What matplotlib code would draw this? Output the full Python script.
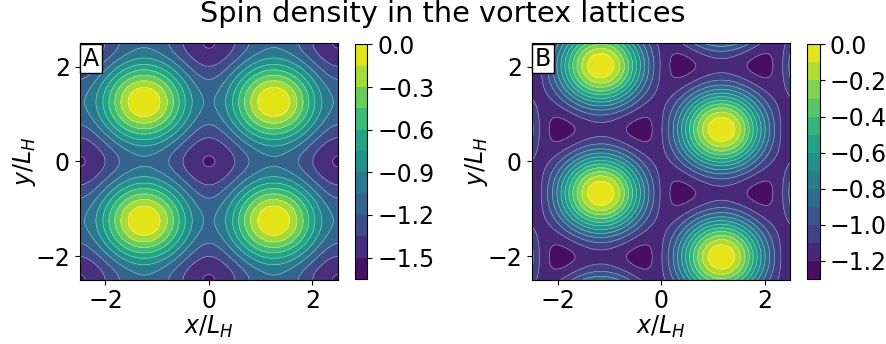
import numpy as np
import matplotlib
matplotlib.use("Agg")
import matplotlib.pyplot as plt

# Lattice data (lengths in units of L_H)
panel_labels = ["A", "B"]
cell_period = [2.507, 2.694]      # vertical spacing of the vortex rows
row_phase = [0.0, 0.5]            # phase step between rows: 0 = square, 0.5 = triangular
spin_min = [-1.51, -1.235]        # deepest value of the spin density
levels_A = [-1.65, -1.5, -1.35, -1.2, -1.05, -0.9, -0.75, -0.6, -0.45, -0.3, -0.15, 0.0]
levels_B = [-1.3, -1.2, -1.1, -1.0, -0.9, -0.8, -0.7, -0.6, -0.5, -0.4, -0.3, -0.2, -0.1, 0.0]
ticks_A = [0.0, -0.3, -0.6, -0.9, -1.2, -1.5]
ticks_B = [0.0, -0.2, -0.4, -0.6, -0.8, -1.0, -1.2]
axis_ticks = [-2, 0, 2]

# grid
xs = np.linspace(-2.5, 2.5, 400)
ys = np.linspace(-2.5, 2.5, 400)
X, Y = np.meshgrid(xs, ys)


def spin_density(b, phase, vmin):
    # lowest Landau level lattice wavefunction in Landau gauge
    k0 = 2 * np.pi / b
    psi = np.zeros_like(X, dtype=complex)
    for n in range(-8, 9):
        kn = n * k0
        psi += np.exp(1j * np.pi * phase * n**2) * np.exp(1j * kn * Y) * np.exp(-(X - kn) ** 2 / 2)
    rho = np.abs(psi) ** 2
    rho = rho / rho.max()
    return np.minimum(vmin * rho, 0.0)


plt.rcParams['font.size'] = 17
fig = plt.figure(figsize=(8.86, 3.44), dpi=100)

ax_pos = [[0.0898, 0.187, 0.292, 0.688], [0.6001, 0.187, 0.292, 0.688]]
cb_pos = [[0.4007, 0.189, 0.0139, 0.682], [0.9112, 0.189, 0.0143, 0.682]]
all_levels = [levels_A, levels_B]
all_ticks = [ticks_A, ticks_B]

for i in range(2):
    Z = spin_density(cell_period[i], row_phase[i], spin_min[i])
    ax = fig.add_axes(ax_pos[i])
    cs = ax.contourf(X, Y, Z, levels=all_levels[i], cmap='viridis')
    ax.contour(X, Y, Z, levels=all_levels[i], colors='white', linewidths=0.5,
               linestyles='solid', alpha=0.45)
    ax.set_xticks(axis_ticks)
    ax.set_yticks(axis_ticks)
    ax.set_xlabel(r'$x/L_H$', labelpad=0)
    ax.set_ylabel(r'$y/L_H$', labelpad=-2)
    ax.text(0.012, 0.985, panel_labels[i], transform=ax.transAxes, ha='left', va='top',
            fontsize=17, bbox=dict(boxstyle='square,pad=0.12', facecolor='white', edgecolor='black'))
    cax = fig.add_axes(cb_pos[i])
    cb = fig.colorbar(cs, cax=cax, ticks=all_ticks[i])
    cb.ax.set_yticklabels([f"{t:.1f}".replace('-', '\u2212') for t in all_ticks[i]])

fig.suptitle('Spin density in the vortex lattices', fontsize=20.7, y=1.0, va='top')

plt.savefig('out.png', dpi=100)
